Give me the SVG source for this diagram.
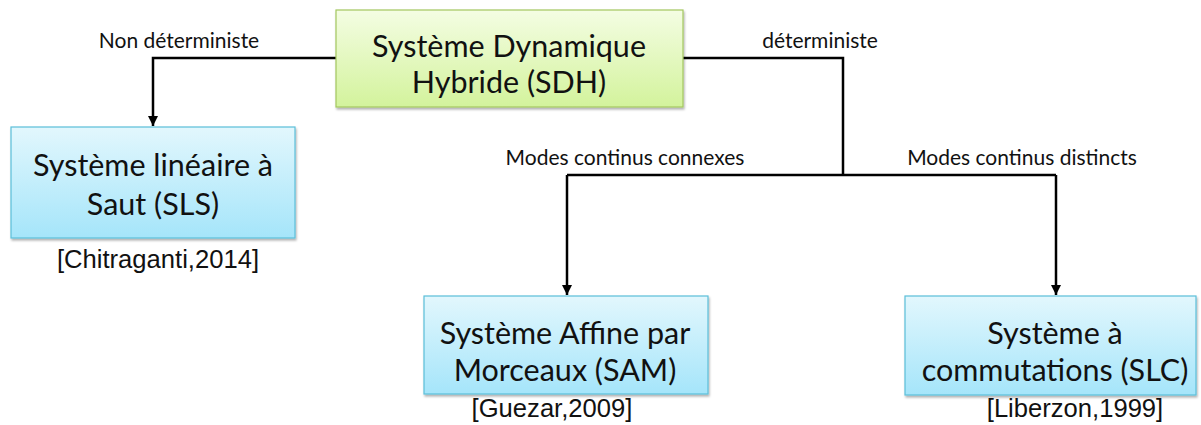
<svg xmlns="http://www.w3.org/2000/svg" width="1201" height="425" viewBox="0 0 1201 425">
<defs>
<linearGradient id="gGreen" x1="0" y1="0" x2="0" y2="1">
<stop offset="0" stop-color="#f4fde3"/>
<stop offset="1" stop-color="#d3f39c"/>
</linearGradient>
<linearGradient id="gBlue" x1="0" y1="0" x2="0" y2="1">
<stop offset="0" stop-color="#e2f7fd"/>
<stop offset="1" stop-color="#a5e5fa"/>
</linearGradient>
<filter id="sh" x="-5%" y="-5%" width="110%" height="115%">
<feDropShadow dx="1" dy="2" stdDeviation="1.2" flood-color="#000" flood-opacity="0.3"/>
</filter>
<marker id="arr" viewBox="0 0 10 10" refX="10" refY="5" markerWidth="4" markerHeight="4" orient="auto" markerUnits="strokeWidth">
<path d="M0,0 L10,5 L0,10 z" fill="#000"/>
</marker>
</defs>
<style>
.green{fill:url(#gGreen);stroke:#a3c75f;stroke-width:1.2}
.blue{fill:url(#gBlue);stroke:#5bbfd9;stroke-width:1.2}
.big{font-family:Lato,"Open Sans",sans-serif;font-size:30.5px;fill:#111;text-anchor:middle}
.lab{font-family:Lato,"Open Sans",sans-serif;font-size:21px;fill:#111;text-anchor:middle}
.ref{font-family:"Liberation Sans",Arial,sans-serif;font-size:25.6px;fill:#111;text-anchor:middle}
.con{fill:none;stroke:#000;stroke-width:2.5}
</style>
<g id="connectors">
<polyline class="con" points="336,58 153,58 153,126" marker-end="url(#arr)"/>
<polyline class="con" points="683,58 843,58 843,175"/>
<polyline class="con" points="567,175 1056,175"/>
<polyline class="con" points="567,175 567,295" marker-end="url(#arr)"/>
<polyline class="con" points="1056,175 1056,295" marker-end="url(#arr)"/>
<text class="lab" x="179" y="48">Non déterministe</text>
<text class="lab" x="820" y="48">déterministe</text>
<text class="lab" x="625" y="165">Modes continus connexes</text>
<text class="lab" x="1022" y="165">Modes continus distincts</text>
</g>
<g id="sdh">
<rect class="green" x="336" y="10" width="347" height="97" filter="url(#sh)"/>
<text class="big" x="509" y="57">Système Dynamique</text>
<text class="big" x="509" y="93">Hybride (SDH)</text>
</g>
<g id="sls">
<rect class="blue" x="11" y="127" width="284" height="111" filter="url(#sh)"/>
<text class="big" x="153" y="176">Système linéaire à</text>
<text class="big" x="153" y="215">Saut (SLS)</text>
<text class="ref" x="158" y="268">[Chitraganti,2014]</text>
</g>
<g id="sam">
<rect class="blue" x="424" y="296" width="284" height="98" filter="url(#sh)"/>
<text class="big" x="565" y="344">Système Affine par</text>
<text class="big" x="565" y="381">Morceaux (SAM)</text>
<text class="ref" x="552" y="417">[Guezar,2009]</text>
</g>
<g id="slc">
<rect class="blue" x="905" y="296" width="291" height="99" filter="url(#sh)"/>
<text class="big" x="1055" y="344">Système à</text>
<text class="big" x="1055" y="381">commutations (SLC)</text>
<text class="ref" x="1075" y="417">[Liberzon,1999]</text>
</g>
</svg>
